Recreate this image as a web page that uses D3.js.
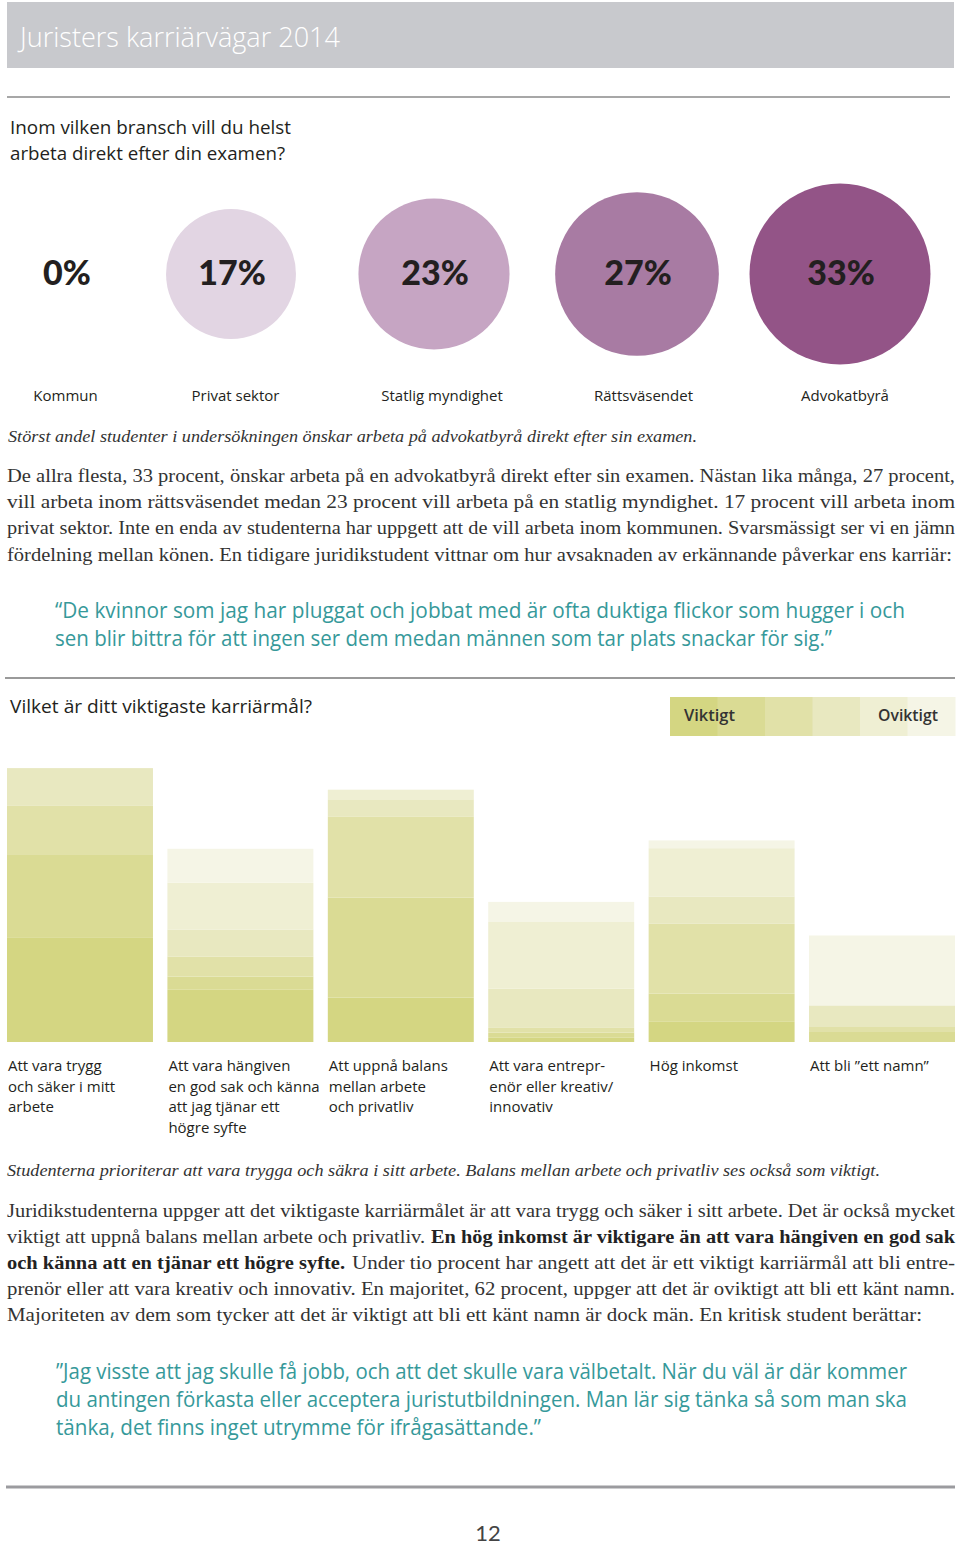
<!DOCTYPE html>
<html><head><meta charset="utf-8">
<script src="https://cdn.jsdelivr.net/npm/d3@7"></script>
<style>body{margin:0;background:#fff}</style>
</head><body>
<svg id="c" width="960" height="1546"></svg>
<script>
// ---------- DATA ----------
const pageTitle = "Juristers karriärvägar 2014";
const question1 = ["Inom vilken bransch vill du helst", "arbeta direkt efter din examen?"];
const sectors = ["Kommun", "Privat sektor", "Statlig myndighet", "Rättsväsendet", "Advokatbyrå"];
const sectorShares = [0, 17, 23, 27, 33];
const caption1 = "Störst andel studenter i undersökningen önskar arbeta på advokatbyrå direkt efter sin examen.";
const body1 = [
  "De allra flesta, 33 procent, önskar arbeta på en advokatbyrå direkt efter sin examen. Nästan lika många, 27 procent,",
  "vill arbeta inom rättsväsendet medan 23 procent vill arbeta på en statlig myndighet. 17 procent vill arbeta inom",
  "privat sektor. Inte en enda av studenterna har uppgett att de vill arbeta inom kommunen. Svarsmässigt ser vi en jämn",
  "fördelning mellan könen. En tidigare juridikstudent vittnar om hur avsaknaden av erkännande påverkar ens karriär:"
];
const quote1 = [
  "“De kvinnor som jag har pluggat och jobbat med är ofta duktiga flickor som hugger i och",
  "sen blir bittra för att ingen ser dem medan männen som tar plats snackar för sig.”"
];
const question2 = "Vilket är ditt viktigaste karriärmål?";
const levelKeys = ["l1", "l2", "l3", "l4", "l5", "l6"];
const legendTexts = ["Viktigt", "Oviktigt"];
const goals = ["trygg", "hangiven", "balans", "entreprenor", "inkomst", "namn"];
const goalLabels = [
  ["Att vara trygg", "och säker i mitt", "arbete"],
  ["Att vara hängiven", "en god sak och känna", "att jag tjänar ett", "högre syfte"],
  ["Att uppnå balans", "mellan arbete", "och privatliv"],
  ["Att vara entrepr-", "enör eller kreativ/", "innovativ"],
  ["Hög inkomst"],
  ["Att bli ”ett namn”"]
];
// values per level, from "Viktigt" (l1, bottom) to "Oviktigt" (l6, top)
const l1 = [34.7, 17.4, 14.8, 1.4, 6.9, 0];
const l2 = [27.9, 4.4, 33.3, 1.7, 9.2, 3.6];
const l3 = [16.1, 6.7, 27.1, 1.6, 23.3, 1.4];
const l4 = [12.6, 9.0, 5.7, 13.1, 9.1, 7.2];
const l5 = [0, 15.6, 3.2, 22.2, 16.1, 0];
const l6 = [0, 11.3, 0, 6.7, 2.6, 23.3];
const caption2 = "Studenterna prioriterar att vara trygga och säkra i sitt arbete. Balans mellan arbete och privatliv ses också som viktigt.";
const body2 = [
  [["Juridikstudenterna uppger att det viktigaste karriärmålet är att vara trygg och säker i sitt arbete. Det är också mycket", false]],
  [["viktigt att uppnå balans mellan arbete och privatliv.", false], ["En hög inkomst är viktigare än att vara hängiven en god sak", true]],
  [["och känna att en tjänar ett högre syfte.", true], ["Under tio procent har angett att det är ett viktigt karriärmål att bli entre-", false]],
  [["prenör eller att vara kreativ och innovativ. En majoritet, 62 procent, uppger att det är oviktigt att bli ett känt namn.", false]],
  [["Majoriteten av dem som tycker att det är viktigt att bli ett känt namn är dock män. En kritisk student berättar:", false]]
];
const quote2 = [
  "”Jag visste att jag skulle få jobb, och att det skulle vara välbetalt. När du väl är där kommer",
  "du antingen förkasta eller acceptera juristutbildningen. Man lär sig tänka så som man ska",
  "tänka, det finns inget utrymme för ifrågasättande.”"
];
const pageNumber = "12";

// ---------- STYLE ----------
const SANS = "'Open Sans', sans-serif";
const SERIF = "'Liberation Serif', serif";
const INK = "#231f20";
const TEAL = "#36999a";
const purplePalette = ["#ffffff", "#e2d5e3", "#c6a5c3", "#a87ba3", "#935487"];
const greenPalette = ["#d4d682", "#dadb94", "#e1e1a8", "#e8e8c0", "#efefd3", "#f5f5e6"];

const svg = d3.select("#c");

function line(txt, x, y, o = {}) {
  const t = svg.append("text").attr("x", x).attr("y", y).text(txt)
    .attr("font-family", o.family || SANS).attr("font-size", o.size || 16)
    .attr("fill", o.fill || INK);
  if (o.weight) t.attr("font-weight", o.weight);
  if (o.style) t.attr("font-style", o.style);
  if (o.anchor) t.attr("text-anchor", o.anchor);
  if (o.width) t.attr("textLength", o.width).attr("lengthAdjust", "spacingAndGlyphs");
  return t;
}

// ---------- HEADER ----------
svg.append("rect").attr("x", 7).attr("y", 2).attr("width", 947).attr("height", 66).attr("fill", "#c8c9cd");
line(pageTitle, 20, 47, { size: 28, weight: 300, fill: "#ffffff", width: 320 });
svg.append("line").attr("x1", 7).attr("x2", 950).attr("y1", 97).attr("y2", 97).attr("stroke", "#8a8a8a").attr("stroke-width", 1.5);
line(question1[0], 10, 134, { size: 19, width: 281 });
line(question1[1], 10, 160, { size: 19, width: 275 });

// ---------- BUBBLES ----------
const bx = d3.scaleLinear().domain([0, 1, 4]).range([66, 231, 840]);
const lxs = d3.scaleLinear().domain([0, 1, 2, 4]).range([65.5, 235.5, 442, 845]);
const br = d3.scaleSqrt().domain([0, 33]).range([0, 90.5]);
const cy = 274;
const bub = svg.append("g").selectAll("g").data(sectors).join("g");
bub.append("circle").attr("cx", (d, i) => bx(i)).attr("cy", cy)
  .attr("r", (d, i) => br(sectorShares[i])).attr("fill", (d, i) => purplePalette[i]);
bub.append("text").attr("x", (d, i) => bx(i) + 1).attr("y", cy + 11)
  .attr("text-anchor", "middle").attr("font-family", "Lato, sans-serif").attr("font-weight", 900)
  .attr("font-size", 34).attr("fill", INK).text((d, i) => sectorShares[i] + "%");
bub.append("text").attr("x", (d, i) => lxs(i)).attr("y", 401)
  .attr("text-anchor", "middle").attr("font-family", SANS).attr("font-size", 15)
  .attr("fill", INK).text(d => d);

// ---------- TEXT BLOCK 1 ----------
line(caption1, 8, 442, { family: SERIF, style: "italic", size: 17, fill: "#333", width: 689 });
body1.forEach((t, i) => line(t, 7, 482 + i * 26.2, { family: SERIF, size: 18, fill: "#333", width: i === 3 ? 945 : 948 }));
line(quote1[0], 55, 618, { size: 21, fill: TEAL, width: 850 });
line(quote1[1], 55, 646, { size: 21, fill: TEAL, width: 777 });
svg.append("line").attr("x1", 5).attr("x2", 955).attr("y1", 678).attr("y2", 678).attr("stroke", "#9a9a9a").attr("stroke-width", 2);

// ---------- STACKED BARS ----------
line(question2, 10, 713, { size: 19, width: 302 });

const lx = d3.scaleBand().domain(levelKeys).range([670, 955]);
const color = d3.scaleOrdinal().domain(levelKeys).range(greenPalette);
svg.append("g").selectAll("rect").data(levelKeys).join("rect")
  .attr("x", d => lx(d)).attr("y", 697).attr("width", lx.bandwidth() + 0.5).attr("height", 39)
  .attr("fill", d => color(d));
line(legendTexts[0], 684, 721, { size: 16, weight: 600, fill: "#333", width: 51 });
line(legendTexts[1], 878, 721, { size: 16, weight: 600, fill: "#333", width: 60 });

const rows = goals.map((g, i) => ({ goal: g, l1: l1[i], l2: l2[i], l3: l3[i], l4: l4[i], l5: l5[i], l6: l6[i] }));
const series = d3.stack().keys(levelKeys)(rows);
const x = d3.scaleBand().domain(goals).range([7, 955]).paddingInner(0.09).paddingOuter(0);
const y = d3.scaleLinear().domain([0, 100]).range([1042, 742]);

svg.append("g").selectAll("g").data(series).join("g")
  .attr("fill", s => color(s.key))
  .selectAll("rect").data(s => s).join("rect")
  .attr("x", d => x(d.data.goal)).attr("width", x.bandwidth())
  .attr("y", d => y(d[1])).attr("height", d => Math.max(0, y(d[0]) - y(d[1])));

goals.forEach((g, i) => {
  goalLabels[i].forEach((t, j) => line(t, x(g) + 1, 1071 + j * 20.5, { size: 15 }));
});

// ---------- TEXT BLOCK 2 ----------
line(caption2, 7, 1176, { family: SERIF, style: "italic", size: 17, fill: "#333", width: 873 });
const body2Layout = [
  [[7, 948]],
  [[7, 418], [431, 524]],
  [[7, 338], [352, 603]],
  [[7, 948]],
  [[7, 915]]
];
body2.forEach((parts, i) => {
  parts.forEach((p, k) => {
    const [px, pw] = body2Layout[i][k];
    line(p[0], px, 1217 + i * 26, { family: SERIF, size: 18, fill: p[1] ? "#222" : "#333", weight: p[1] ? 700 : 400, width: pw });
  });
});
line(quote2[0], 56, 1379, { size: 21, fill: TEAL, width: 851 });
line(quote2[1], 56, 1407, { size: 21, fill: TEAL, width: 851 });
line(quote2[2], 56, 1435, { size: 21, fill: TEAL, width: 485 });

svg.append("line").attr("x1", 6).attr("x2", 955).attr("y1", 1487).attr("y2", 1487).attr("stroke", "#9b9b9f").attr("stroke-width", 3);
line(pageNumber, 488, 1541, { family: "Lato, sans-serif", size: 22, fill: "#444", anchor: "middle" });
</script>
</body></html>
